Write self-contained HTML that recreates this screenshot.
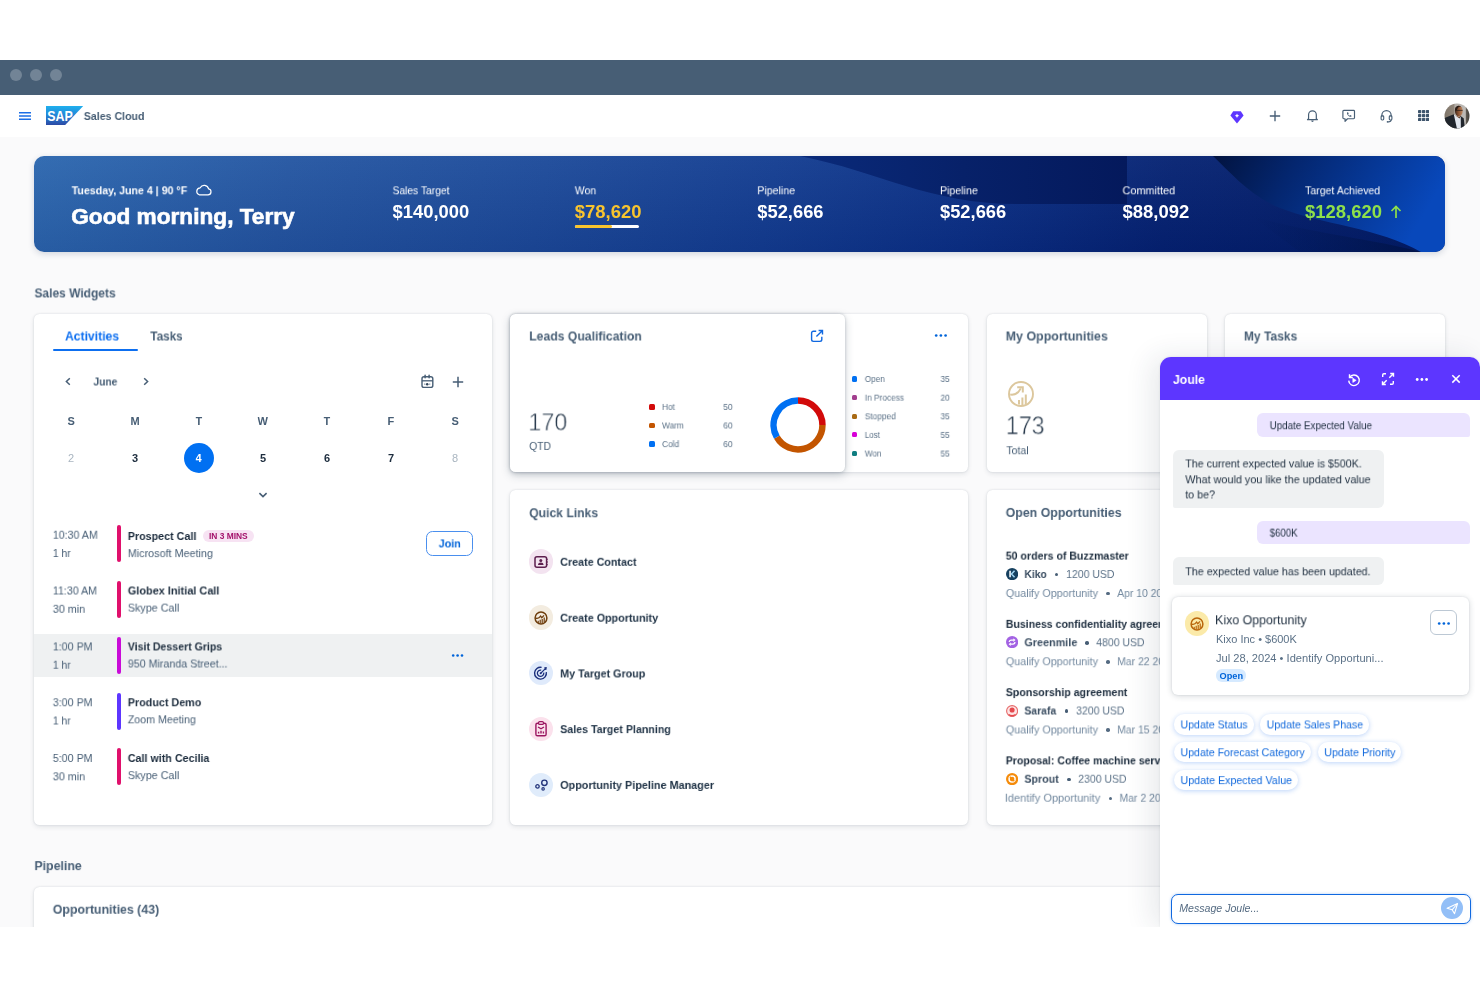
<!DOCTYPE html>
<html><head><meta charset="utf-8">
<style>
*{box-sizing:border-box;margin:0;padding:0}
html,body{width:1480px;height:987px;overflow:hidden;background:#fff}
body{font-family:"Liberation Sans",sans-serif;color:#1d2d3e;position:relative}
.abs{position:absolute}
.t{position:absolute;white-space:pre;line-height:1;transform-origin:0 0;will-change:transform}
#chrome{left:0;top:60px;width:1480px;height:35px;background:#475e75}
#chrome i{position:absolute;top:9px;width:12px;height:12px;border-radius:50%;background:#728496}
#hdr{left:0;top:95px;width:1480px;height:42px;background:#fff}
#page{left:0;top:137px;width:1480px;height:790px;background:#fafafb}
#banner{left:34px;top:156px;width:1411px;height:96px;border-radius:10px;overflow:hidden;background:linear-gradient(180deg,rgba(255,255,255,.04),rgba(0,0,50,.09)),linear-gradient(100deg,#2c67af 0%,#2456a2 18%,#1c4a9a 36%,#133d91 52%,#0b3086 66%,#052272 80%,#021b64 100%);box-shadow:0 2px 6px rgba(30,50,90,.18)}
.card{position:absolute;background:#fff;border-radius:5.500px;box-shadow:0 0 2px rgba(34,53,72,.16),0 2px 5px rgba(34,53,72,.10)}
.bar{position:absolute;left:116.700px;width:4.5px;height:37px;border-radius:2.5px}
.sq{position:absolute;width:5.5px;height:5.5px;border-radius:1.5px}
.ub{position:absolute;left:1257px;width:212.5px;background:#ebe4ff;border-radius:6px 6px 2px 6px}
.bb{position:absolute;left:1172.5px;width:211px;background:#eff1f2;border-radius:6px 6px 6px 2px}
.chip{position:absolute;height:20.200px;border-radius:10.100px;background:#fff;box-shadow:0 1px 5px rgba(30,110,235,.30)}
.qc{position:absolute;left:529px;width:24.4px;height:24.4px;border-radius:50%}
</style></head><body>
<div id="chrome" class="abs"><i style="left:10px"></i><i style="left:30px"></i><i style="left:50px"></i></div>
<div id="hdr" class="abs">
<svg class="abs" style="left:19px;top:15px" width="12" height="12" viewBox="0 0 12 12"><path d="M0 2.700h12M0 6h12M0 9.300h12" stroke="#1b6ee6" stroke-width="1.600" fill="none"/></svg>
<svg class="abs" style="left:46px;top:11px" width="38" height="19" viewBox="0 0 38 19"><defs><linearGradient id="sapg" x1="0" y1="0" x2="0" y2="1"><stop offset="0" stop-color="#1fb0ee"/><stop offset=".5" stop-color="#2384d6"/><stop offset="1" stop-color="#2c4aa5"/></linearGradient></defs><path d="M0 0H37.200L19.200 19H0Z" fill="url(#sapg)"/><text x="1.200" y="14.600" font-family="Liberation Sans" font-weight="bold" font-size="14.200" fill="#fff" textLength="25.500" lengthAdjust="spacingAndGlyphs">SAP</text></svg>
<svg class="abs" style="left:1230px;top:15.500px" width="14" height="13" viewBox="0 0 14 13"><path d="M3.200 0.300h7.600L13.600 4.400 7 12.600 0.400 4.400Z" fill="#5d36ff"/><path d="M7 2.600l.7 1.500 1.500.7-1.500.7L7 7l-.7-1.500-1.500-.7 1.500-.7Z" fill="#fff"/></svg>
<svg class="abs" style="left:1268.700px;top:14.600px" width="12" height="12" viewBox="0 0 12 12"><path d="M6 0.800v10.400M0.800 6h10.400" stroke="#475e75" stroke-width="1.350" fill="none"/></svg>
<svg class="abs" style="left:1305.600px;top:14.300px" width="12.900" height="13.800" viewBox="0 0 14 15"><path d="M2.800 10.600V6.200a4.200 4.200 0 0 1 8.400 0v4.400l1.200 1H1.600Z" fill="none" stroke="#475e75" stroke-width="1.300" stroke-linejoin="round"/><path d="M5.600 12.600a1.400 1.400 0 0 0 2.800 0Z" fill="#475e75"/></svg>
<svg class="abs" style="left:1342.200px;top:13.800px" width="13.400" height="14" viewBox="0 0 15 15"><path d="M2 1.200h11a1 1 0 0 1 1 1v7.400a1 1 0 0 1-1 1H6.200L3.400 13.400v-2.800H2a1 1 0 0 1-1-1V2.200a1 1 0 0 1 1-1Z" fill="none" stroke="#475e75" stroke-width="1.300" stroke-linejoin="round"/><path d="M5.600 3.600l1.200-.3.700 1.600-.7.600c.3.800.9 1.400 1.700 1.700l.6-.7 1.600.7-.3 1.200c-2.600.3-5.100-2.200-4.800-4.800Z" fill="#475e75"/></svg>
<svg class="abs" style="left:1379.600px;top:13.800px" width="13" height="14" viewBox="0 0 14 15"><path d="M2 8V6.600a5 5 0 0 1 10 0V8" fill="none" stroke="#475e75" stroke-width="1.300"/><rect x="1.200" y="7.400" width="2.800" height="4.400" rx="1" fill="none" stroke="#475e75" stroke-width="1.200"/><rect x="10" y="7.400" width="2.800" height="4.400" rx="1" fill="none" stroke="#475e75" stroke-width="1.200"/><path d="M12 11.800c0 1.400-1.200 2-3.200 2" fill="none" stroke="#475e75" stroke-width="1.200"/><circle cx="8.200" cy="13.800" r="1" fill="#475e75"/></svg>
<svg class="abs" style="left:1417.700px;top:15.100px" width="11.200" height="11.200" viewBox="0 0 11.200 11.200" fill="#3f566d"><rect x="0.00" y="0.00" width="3.300" height="3.300" rx=".7"/><rect x="3.95" y="0.00" width="3.300" height="3.300" rx=".7"/><rect x="7.90" y="0.00" width="3.300" height="3.300" rx=".7"/><rect x="0.00" y="3.95" width="3.300" height="3.300" rx=".7"/><rect x="3.95" y="3.95" width="3.300" height="3.300" rx=".7"/><rect x="7.90" y="3.95" width="3.300" height="3.300" rx=".7"/><rect x="0.00" y="7.90" width="3.300" height="3.300" rx=".7"/><rect x="3.95" y="7.90" width="3.300" height="3.300" rx=".7"/><rect x="7.90" y="7.90" width="3.300" height="3.300" rx=".7"/></svg>
<svg class="abs" style="left:1444.300px;top:7.800px" width="26" height="26" viewBox="0 0 26 26"><defs><clipPath id="avc"><circle cx="13" cy="13" r="12.500"/></clipPath><linearGradient id="avg" x1="0" y1="0" x2="1" y2="0"><stop offset="0" stop-color="#7d7468"/><stop offset=".38" stop-color="#8f8478"/><stop offset=".42" stop-color="#b3aea8"/><stop offset=".82" stop-color="#bdbab6"/><stop offset=".86" stop-color="#5d5850"/><stop offset="1" stop-color="#3c3a36"/></linearGradient><linearGradient id="avf" x1="0" y1="0" x2="1" y2="0"><stop offset="0" stop-color="#3b271d"/><stop offset=".45" stop-color="#8a5333"/><stop offset="1" stop-color="#c08a62"/></linearGradient></defs><g clip-path="url(#avc)"><rect width="26" height="26" fill="url(#avg)"/><ellipse cx="14.800" cy="8" rx="3.900" ry="5.200" fill="url(#avf)"/><path d="M10.900 7.500c0-3 1.600-4.800 4-4.800 1 0 1.800.3 2.400.8-2.400-.2-4.200 1.400-4.600 4.200Z" fill="#2a1c15"/><path d="M12.800 7.400h5.800" stroke="#2e211b" stroke-width=".8"/><path d="M11.400 12.500l3.800 1.500 1.300-1.500v4h-5Z" fill="#7a4a2e"/><path d="M0 26V15.200l9.800-4 4.200 6 2.500-4.200 3.200 2.200 1.300 10.800Z" fill="#20252c"/><path d="M9.800 11.200l5.600 4.300 1.300-2 .2 12.500h-3.900Z" fill="#e1e6ee"/></g></svg>
</div>
<div class="t" style="left:83px;top:111px;font-size:11.3px;color:#475e75;font-weight:bold;transform:translate(0.80px,0.00px) scaleX(0.9389);">Sales Cloud</div>
<div id="page" class="abs"></div>
<div id="banner" class="abs">
<svg class="abs" style="left:0;top:0" width="1411" height="96" viewBox="34 156 1411 96"><defs>
<linearGradient id="bg1" x1="0" y1="0" x2="1" y2="0"><stop offset="0" stop-color="#0a2a7a"/><stop offset=".5" stop-color="#072169"/><stop offset="1" stop-color="#04195c"/></linearGradient>
<linearGradient id="bg2" x1="0" y1="0" x2="1" y2="0.250"><stop offset="0" stop-color="#02133f"/><stop offset=".35" stop-color="#04266f"/><stop offset="1" stop-color="#0848bb"/></linearGradient>
<linearGradient id="bg3" x1="0" y1="0" x2="1" y2="0"><stop offset="0" stop-color="#021a5c" stop-opacity="0"/><stop offset="1" stop-color="#011346" stop-opacity=".9"/></linearGradient>
</defs>
<path d="M800 156C880 172 930 204 1016 204H1127V156Z" fill="url(#bg1)"/>
<path d="M1250 215C1300 232 1370 238 1421 252H1300Z" fill="url(#bg3)"/>
<path d="M1213 156C1230 172 1250 196 1280 208C1320 224 1380 228 1421 252H1445V156Z" fill="url(#bg2)"/>
</svg>
<svg class="abs" style="left:161.400px;top:28.200px" width="17" height="12" viewBox="0 0 17 12"><path d="M4.200 10.800h8.800a3 3 0 0 0 .6-5.940A4.500 4.500 0 0 0 5.200 3.800 3.600 3.600 0 0 0 4.200 10.800Z" fill="none" stroke="#fff" stroke-width="1.200" stroke-linejoin="round"/></svg>
<div class="abs" style="left:541px;top:68.500px;width:64px;height:3px;border-radius:2px;background:#fff"></div><div class="abs" style="left:541px;top:68.500px;width:37px;height:3px;border-radius:2px;background:#f8c42e"></div>
<svg class="abs" style="left:1355.500px;top:48.700px" width="12" height="14" viewBox="0 0 12 14"><path d="M6 13V1.500M1.500 6L6 1.500 10.500 6" fill="none" stroke="#8fe04a" stroke-width="1.700"/></svg>
</div>
<div class="t" style="left:71px;top:185px;font-size:11.3px;color:#fff;font-weight:bold;transform:translate(0.70px,0.30px) scaleX(0.9399);">Tuesday, June 4 | 90 °F</div>
<div class="t" style="left:71px;top:206px;font-size:21.5px;color:#fff;font-weight:bold;transform:translate(0.20px,0.70px) scaleX(1.0530);-webkit-text-stroke:.6px #fff;">Good morning, Terry</div>
<div class="t" style="left:392px;top:185px;font-size:11.3px;color:#fff;transform:translate(0.60px,0.30px) scaleX(0.9080);">Sales Target</div>
<div class="t" style="left:392px;top:203px;font-size:18px;color:#fff;font-weight:bold;transform:translate(0.60px,0.00px) scaleX(1.0204);">$140,000</div>
<div class="t" style="left:574px;top:185px;font-size:11.3px;color:#fff;transform:translate(0.80px,0.30px) scaleX(0.9278);">Won</div>
<div class="t" style="left:574px;top:203px;font-size:18px;color:#f8c42e;font-weight:bold;transform:translate(0.80px,0.00px) scaleX(1.0253);">$78,620</div>
<div class="t" style="left:757px;top:185px;font-size:11.3px;color:#fff;transform:translate(0.30px,0.30px) scaleX(0.9395);">Pipeline</div>
<div class="t" style="left:757px;top:203px;font-size:18px;color:#fff;font-weight:bold;transform:translate(0.30px,0.00px) scaleX(1.0176);">$52,666</div>
<div class="t" style="left:940px;top:185px;font-size:11.3px;color:#fff;transform:translate(0.00px,0.30px) scaleX(0.9395);">Pipeline</div>
<div class="t" style="left:940px;top:203px;font-size:18px;color:#fff;font-weight:bold;transform:translate(0.00px,0.00px) scaleX(1.0176);">$52,666</div>
<div class="t" style="left:1122px;top:185px;font-size:11.3px;color:#fff;transform:translate(0.50px,0.30px) scaleX(0.9644);">Committed</div>
<div class="t" style="left:1122px;top:203px;font-size:18px;color:#fff;font-weight:bold;transform:translate(0.50px,0.00px) scaleX(1.0253);">$88,092</div>
<div class="t" style="left:1305px;top:185px;font-size:11.3px;color:#fff;transform:translate(0.00px,0.30px) scaleX(0.9353);">Target Achieved</div>
<div class="t" style="left:1305px;top:203px;font-size:18px;color:#8fe04a;font-weight:bold;transform:translate(0.00px,0.00px) scaleX(1.0258);">$128,620</div>
<div class="t" style="left:34px;top:286px;font-size:13.3px;color:#475e75;font-weight:bold;transform:translate(0.50px,0.40px) scaleX(0.9003);">Sales Widgets</div>
<div class="card" style="left:34px;top:314px;width:458px;height:511px"></div>
<div class="card" style="left:510px;top:314px;width:458px;height:158px"></div>
<div class="card" style="left:510px;top:314px;width:335px;height:158px;box-shadow:0 0 3px rgba(34,53,72,.25),0 3px 10px rgba(34,53,72,.22)"></div>
<div class="card" style="left:510px;top:490px;width:458px;height:335px"></div>
<div class="card" style="left:987px;top:314px;width:220px;height:158px"></div>
<div class="card" style="left:1225px;top:314px;width:220px;height:158px"></div>
<div class="card" style="left:987px;top:490px;width:458px;height:335px"></div>
<div class="card" style="left:34px;top:887px;width:1411px;height:60px"></div>
<div class="t" style="left:65px;top:329px;font-size:13.3px;color:#0d6ff0;font-weight:bold;transform:translate(0.00px,0.50px) scaleX(0.9144);">Activities</div>
<div class="t" style="left:150px;top:329px;font-size:13.3px;color:#475e75;font-weight:bold;transform:translate(0.30px,0.50px) scaleX(0.8810);">Tasks</div>
<div class="abs" style="left:53px;top:348.500px;width:84.500px;height:2.700px;border-radius:1.500px;background:#0d6ff0"></div>
<svg class="abs" style="left:64px;top:376px" width="8" height="11" viewBox="0 0 8 11"><path d="M5.800 2.300L2.400 5.500 5.800 8.700" fill="none" stroke="#475e75" stroke-width="1.500"/></svg>
<svg class="abs" style="left:142px;top:376px" width="8" height="11" viewBox="0 0 8 11"><path d="M2.200 2.300L5.600 5.500 2.200 8.700" fill="none" stroke="#475e75" stroke-width="1.500"/></svg>
<svg class="abs" style="left:258px;top:490px" width="10" height="10" viewBox="0 0 10 10"><path d="M1.400 3.200L5 6.600 8.600 3.200" fill="none" stroke="#475e75" stroke-width="1.600"/></svg>
<svg class="abs" style="left:419.500px;top:374px" width="14" height="15" viewBox="0 0 14 15"><rect x="2" y="2.700" width="10.800" height="10.700" rx="2" fill="none" stroke="#475e75" stroke-width="1.400"/><path d="M5.100 1.200v2.600M9.100 1.200v2.600" stroke="#475e75" stroke-width="1.500" stroke-linecap="round" fill="none"/><path d="M2 6.800h10.800" stroke="#475e75" stroke-width="1.300"/><circle cx="7.200" cy="10.200" r="1.250" fill="#33475b"/><path d="M4 10.200h1.400M9 10.200h1.400" stroke="#8fa0b2" stroke-width="1.200"/></svg>
<svg class="abs" style="left:451.600px;top:375.500px" width="12" height="12" viewBox="0 0 12 12"><path d="M6 0.800v10.400M0.800 6h10.400" stroke="#475e75" stroke-width="1.500" fill="none"/></svg>
<div class="abs" style="left:183.600px;top:442.500px;width:30.800px;height:30.800px;border-radius:50%;background:#0070f2"></div>
<div class="t" style="left:93px;top:375px;font-size:11.6px;color:#475e75;font-weight:bold;transform:translate(0.40px,0.50px) scaleX(0.8873);">June</div>
<div class="t" style="left:67px;top:415px;font-size:11px;color:#475e75;font-weight:bold;transform:translate(0.50px,0.90px);">S</div>
<div class="t" style="left:130px;top:415px;font-size:11px;color:#475e75;font-weight:bold;transform:translate(0.50px,0.90px);">M</div>
<div class="t" style="left:195px;top:415px;font-size:11px;color:#475e75;font-weight:bold;transform:translate(0.50px,0.90px);">T</div>
<div class="t" style="left:257px;top:415px;font-size:11px;color:#475e75;font-weight:bold;transform:translate(0.50px,0.90px);">W</div>
<div class="t" style="left:323px;top:415px;font-size:11px;color:#475e75;font-weight:bold;transform:translate(0.50px,0.90px);">T</div>
<div class="t" style="left:387px;top:415px;font-size:11px;color:#475e75;font-weight:bold;transform:translate(0.50px,0.90px);">F</div>
<div class="t" style="left:451px;top:415px;font-size:11px;color:#475e75;font-weight:bold;transform:translate(0.50px,0.90px);">S</div>
<div class="t" style="left:68px;top:452px;font-size:11px;color:#a9b5c0;transform:translate(0.00px,0.90px);">2</div>
<div class="t" style="left:132px;top:452px;font-size:11px;color:#1d2d3e;font-weight:bold;transform:translate(0.00px,0.90px);">3</div>
<div class="t" style="left:195px;top:452px;font-size:11px;color:#fff;font-weight:bold;transform:translate(0.50px,0.90px);">4</div>
<div class="t" style="left:260px;top:452px;font-size:11px;color:#1d2d3e;font-weight:bold;transform:translate(0.00px,0.90px);">5</div>
<div class="t" style="left:324px;top:452px;font-size:11px;color:#1d2d3e;font-weight:bold;transform:translate(0.00px,0.90px);">6</div>
<div class="t" style="left:388px;top:452px;font-size:11px;color:#1d2d3e;font-weight:bold;transform:translate(0.00px,0.90px);">7</div>
<div class="t" style="left:452px;top:452px;font-size:11px;color:#a9b5c0;transform:translate(0.00px,0.90px);">8</div>
<div class="abs" style="left:34px;top:634px;width:458px;height:43px;background:#eff1f2"></div>
<div class="bar" style="top:525px;background:#e0106c"></div>
<div class="t" style="left:52px;top:529px;font-size:11.2px;color:#475e75;transform:translate(0.80px,0.70px) scaleX(0.9503);">10:30 AM</div>
<div class="t" style="left:52px;top:548px;font-size:11.2px;color:#475e75;transform:translate(0.80px,0.00px) scaleX(0.9308);">1 hr</div>
<div class="t" style="left:127px;top:530px;font-size:11.6px;color:#1d2d3e;font-weight:bold;transform:translate(0.80px,0.00px) scaleX(0.9245);">Prospect Call</div>
<div class="t" style="left:127px;top:548px;font-size:11.2px;color:#475e75;transform:translate(0.80px,0.10px) scaleX(0.9652);">Microsoft Meeting</div>
<div class="bar" style="top:580.8px;background:#e0106c"></div>
<div class="t" style="left:52px;top:585px;font-size:11.2px;color:#475e75;transform:translate(0.80px,0.50px) scaleX(0.9522);">11:30 AM</div>
<div class="t" style="left:52px;top:603px;font-size:11.2px;color:#475e75;transform:translate(0.80px,0.80px) scaleX(0.9653);">30 min</div>
<div class="t" style="left:127px;top:584px;font-size:11.6px;color:#1d2d3e;font-weight:bold;transform:translate(0.80px,0.50px) scaleX(0.9417);">Globex Initial Call</div>
<div class="t" style="left:127px;top:602px;font-size:11.2px;color:#475e75;transform:translate(0.80px,0.60px) scaleX(0.9625);">Skype Call</div>
<div class="bar" style="top:636.7px;background:#c90bd8"></div>
<div class="t" style="left:52px;top:641px;font-size:11.2px;color:#475e75;transform:translate(0.80px,0.40px) scaleX(0.9554);">1:00 PM</div>
<div class="t" style="left:52px;top:659px;font-size:11.2px;color:#475e75;transform:translate(0.80px,0.70px) scaleX(0.9308);">1 hr</div>
<div class="t" style="left:127px;top:640px;font-size:11.6px;color:#1d2d3e;font-weight:bold;transform:translate(0.80px,0.40px) scaleX(0.9119);">Visit Dessert Grips</div>
<div class="t" style="left:127px;top:658px;font-size:11.2px;color:#475e75;transform:translate(0.80px,0.50px) scaleX(0.9553);">950 Miranda Street...</div>
<div class="bar" style="top:692.5px;background:#5d36ff"></div>
<div class="t" style="left:52px;top:697px;font-size:11.2px;color:#475e75;transform:translate(0.80px,0.20px) scaleX(0.9554);">3:00 PM</div>
<div class="t" style="left:52px;top:715px;font-size:11.2px;color:#475e75;transform:translate(0.80px,0.50px) scaleX(0.9308);">1 hr</div>
<div class="t" style="left:127px;top:696px;font-size:11.6px;color:#1d2d3e;font-weight:bold;transform:translate(0.80px,0.20px) scaleX(0.9274);">Product Demo</div>
<div class="t" style="left:127px;top:714px;font-size:11.2px;color:#475e75;transform:translate(0.80px,0.30px) scaleX(0.9525);">Zoom Meeting</div>
<div class="bar" style="top:748.3px;background:#e0106c"></div>
<div class="t" style="left:52px;top:753px;font-size:11.2px;color:#475e75;transform:translate(0.80px,0.00px) scaleX(0.9554);">5:00 PM</div>
<div class="t" style="left:52px;top:771px;font-size:11.2px;color:#475e75;transform:translate(0.80px,0.30px) scaleX(0.9653);">30 min</div>
<div class="t" style="left:127px;top:752px;font-size:11.6px;color:#1d2d3e;font-weight:bold;transform:translate(0.80px,0.00px) scaleX(0.9244);">Call with Cecilia</div>
<div class="t" style="left:127px;top:770px;font-size:11.2px;color:#475e75;transform:translate(0.80px,0.10px) scaleX(0.9625);">Skype Call</div>
<div class="abs" style="left:203.200px;top:530.300px;width:51px;height:11.700px;border-radius:6px;background:#f7e3f3"></div>
<div class="t" style="left:208px;top:533px;font-size:8.2px;color:#a3116a;font-weight:bold;transform:translate(0.90px,0.40px) scaleX(1.0262);">IN 3 MINS</div>
<div class="abs" style="left:426.200px;top:531.100px;width:47.200px;height:25.400px;border-radius:6.500px;border:1.200px solid #4a8fee;background:#fff"></div>
<div class="t" style="left:438px;top:537px;font-size:11.6px;color:#0064d9;font-weight:bold;transform:translate(0.70px,0.40px) scaleX(0.9263);">Join</div>
<svg class="abs" style="left:451px;top:652.600px" width="14" height="5" viewBox="0 0 14 5" fill="#0064d9"><circle cx="2.200" cy="2.500" r="1.300"/><circle cx="6.600" cy="2.500" r="1.300"/><circle cx="11" cy="2.500" r="1.300"/></svg>
<div class="t" style="left:529px;top:329px;font-size:13.3px;color:#475e75;font-weight:bold;transform:translate(0.20px,0.50px) scaleX(0.9181);">Leads Qualification</div>
<svg class="abs" style="left:809.500px;top:329px" width="14" height="14" viewBox="0 0 14 14"><path d="M6.200 2.200H3.400A1.800 1.800 0 0 0 1.600 4V10.600a1.800 1.800 0 0 0 1.800 1.800H10a1.800 1.800 0 0 0 1.800-1.800V7.800" fill="none" stroke="#1068e0" stroke-width="1.400"/><path d="M8.600 1.500h3.900v3.900M12.300 1.700L6.400 7.600" fill="none" stroke="#1068e0" stroke-width="1.400"/></svg>
<svg class="abs" style="left:933.500px;top:333.200px" width="14" height="5" viewBox="0 0 14 5" fill="#0064d9"><circle cx="2.200" cy="2.500" r="1.350"/><circle cx="6.900" cy="2.500" r="1.350"/><circle cx="11.600" cy="2.500" r="1.350"/></svg>
<div class="t" style="left:528px;top:410px;font-size:24.5px;color:#223447;transform:translate(0.24px,0.40px) scaleX(0.9554);-webkit-text-stroke:.55px #fff;">170</div>
<div class="t" style="left:529px;top:440px;font-size:11.2px;color:#475e75;transform:translate(0.20px,0.90px) scaleX(0.9220);">QTD</div>
<div class="sq" style="left:649.300px;top:404.05px;background:#d20a0a"></div>
<div class="t" style="left:662px;top:402px;font-size:8.7px;color:#5b7187;transform:translate(0.00px,0.90px) scaleX(0.9500);">Hot</div>
<div class="t" style="left:723px;top:402px;font-size:8.7px;color:#5b7187;transform:translate(0.20px,0.90px) scaleX(0.9866);">50</div>
<div class="sq" style="left:649.300px;top:422.65px;background:#c35500"></div>
<div class="t" style="left:662px;top:421px;font-size:8.7px;color:#5b7187;transform:translate(0.00px,0.50px) scaleX(0.9557);">Warm</div>
<div class="t" style="left:723px;top:421px;font-size:8.7px;color:#5b7187;transform:translate(0.20px,0.50px) scaleX(0.9866);">60</div>
<div class="sq" style="left:649.300px;top:441.25px;background:#0070f2"></div>
<div class="t" style="left:662px;top:440px;font-size:8.7px;color:#5b7187;transform:translate(0.00px,0.10px) scaleX(0.9648);">Cold</div>
<div class="t" style="left:723px;top:440px;font-size:8.7px;color:#5b7187;transform:translate(0.20px,0.10px) scaleX(0.9866);">60</div>
<svg class="abs" style="left:766px;top:393.400px" width="64" height="64" viewBox="766 393.400 64 64"><path d="M798.00 400.95A24.45 24.45 0 0 1 822.45 425.40" fill="none" stroke="#d20a0a" stroke-width="6.5"/><path d="M822.45 425.40A24.45 24.45 0 0 1 776.83 437.62" fill="none" stroke="#c35500" stroke-width="6.5"/><path d="M776.83 437.62A24.45 24.45 0 0 1 798.00 400.95" fill="none" stroke="#0070f2" stroke-width="6.5"/></svg>
<div class="sq" style="left:852px;top:376.30px;width:5.300px;height:5.300px;background:#0070f2"></div>
<div class="t" style="left:864px;top:375px;font-size:8.6px;color:#5b7187;transform:translate(0.80px,0.00px) scaleX(0.9509);">Open</div>
<div class="t" style="left:940px;top:375px;font-size:8.6px;color:#5b7187;transform:translate(0.50px,0.00px) scaleX(0.9612);">35</div>
<div class="sq" style="left:852px;top:394.93px;width:5.300px;height:5.300px;background:#a23e8e"></div>
<div class="t" style="left:864px;top:393px;font-size:8.6px;color:#5b7187;transform:translate(0.80px,0.63px) scaleX(0.9652);">In Process</div>
<div class="t" style="left:940px;top:393px;font-size:8.6px;color:#5b7187;transform:translate(0.50px,0.63px) scaleX(0.9612);">20</div>
<div class="sq" style="left:852px;top:413.56px;width:5.300px;height:5.300px;background:#a86a14"></div>
<div class="t" style="left:864px;top:412px;font-size:8.6px;color:#5b7187;transform:translate(0.80px,0.26px) scaleX(0.9678);">Stopped</div>
<div class="t" style="left:940px;top:412px;font-size:8.6px;color:#5b7187;transform:translate(0.50px,0.26px) scaleX(0.9612);">35</div>
<div class="sq" style="left:852px;top:432.19px;width:5.300px;height:5.300px;background:#d800d8"></div>
<div class="t" style="left:864px;top:430px;font-size:8.6px;color:#5b7187;transform:translate(0.80px,0.89px) scaleX(0.9314);">Lost</div>
<div class="t" style="left:940px;top:430px;font-size:8.6px;color:#5b7187;transform:translate(0.50px,0.89px) scaleX(0.9612);">55</div>
<div class="sq" style="left:852px;top:450.82px;width:5.300px;height:5.300px;background:#0f7d80"></div>
<div class="t" style="left:864px;top:449px;font-size:8.6px;color:#5b7187;transform:translate(0.80px,0.52px) scaleX(0.9529);">Won</div>
<div class="t" style="left:940px;top:449px;font-size:8.6px;color:#5b7187;transform:translate(0.50px,0.52px) scaleX(0.9612);">55</div>
<div class="t" style="left:529px;top:506px;font-size:13.3px;color:#475e75;font-weight:bold;transform:translate(0.20px,0.20px) scaleX(0.9136);">Quick Links</div>
<div class="qc" style="top:549.40px;background:#f3e3f0"></div>
<div class="t" style="left:560px;top:555px;font-size:11.7px;color:#223548;font-weight:bold;transform:translate(0.20px,0.80px) scaleX(0.9178);">Create Contact</div>
<div class="qc" style="top:605.30px;background:#f3ece0"></div>
<div class="t" style="left:560px;top:611px;font-size:11.7px;color:#223548;font-weight:bold;transform:translate(0.20px,0.70px) scaleX(0.9197);">Create Opportunity</div>
<div class="qc" style="top:661.00px;background:#dfeafb"></div>
<div class="t" style="left:560px;top:667px;font-size:11.7px;color:#223548;font-weight:bold;transform:translate(0.20px,0.40px) scaleX(0.9189);">My Target Group</div>
<div class="qc" style="top:716.70px;background:#fbe1ec"></div>
<div class="t" style="left:560px;top:723px;font-size:11.7px;color:#223548;font-weight:bold;transform:translate(0.20px,0.10px) scaleX(0.9125);">Sales Target Planning</div>
<div class="qc" style="top:772.50px;background:#e0ecfb"></div>
<div class="t" style="left:560px;top:778px;font-size:11.7px;color:#223548;font-weight:bold;transform:translate(0.20px,0.90px) scaleX(0.9251);">Opportunity Pipeline Manager</div>
<svg class="abs" style="left:533.300px;top:553.600px" width="16" height="16" viewBox="0 0 16 16"><rect x="2" y="2.700" width="11.600" height="10.600" rx="2" fill="none" stroke="#5e1f4f" stroke-width="1.500"/><path d="M13.600 5.400h1M13.600 8h1M13.600 10.600h1" stroke="#5e1f4f" stroke-width="1.300"/><circle cx="7.800" cy="6.600" r="1.500" fill="#5e1f4f"/><path d="M5 11c0-1.700 1.200-2.500 2.800-2.500s2.800.8 2.800 2.500Z" fill="#5e1f4f"/></svg>
<svg class="abs" style="left:533.300px;top:609.500px" width="16" height="16" viewBox="0 0 16 16"><circle cx="8" cy="8" r="5.900" fill="none" stroke="#6e3d0c" stroke-width="1.500"/><path d="M2.800 8.200c2.200.6 3.600-.2 4.800-2l1.200 1.500 2.200-2.300" fill="none" stroke="#6e3d0c" stroke-width="1.300"/><path d="M5.200 13V10.800M7.200 13.600V9.800M9.200 13.600V9M11.200 12.600V7.600" stroke="#6e3d0c" stroke-width="1.200"/></svg>
<svg class="abs" style="left:533.300px;top:665.200px" width="16" height="16" viewBox="0 0 16 16"><path d="M13.300 7.200A5.900 5.900 0 1 1 8.600 2.400" fill="none" stroke="#1b2f7c" stroke-width="1.400"/><path d="M10.700 7.600A3.200 3.200 0 1 1 8.200 5.100" fill="none" stroke="#1b2f7c" stroke-width="1.300"/><circle cx="7.700" cy="8.300" r="1" fill="#1b2f7c"/><path d="M7.900 8.100L12.600 3.400" stroke="#1b2f7c" stroke-width="1.300"/><path d="M11.200 2.300l2.600-.3-.3 2.700-1.300.2Z" fill="#1b2f7c"/></svg>
<svg class="abs" style="left:533.300px;top:720.900px" width="16" height="16" viewBox="0 0 16 16"><rect x="2.900" y="2.200" width="10.200" height="12.600" rx="1.600" fill="none" stroke="#9b1560" stroke-width="1.400"/><rect x="5.600" y=".6" width="4.800" height="2.800" rx="1" fill="#fbe1ec" stroke="#9b1560" stroke-width="1.200"/><path d="M5 6l3 1.800L11 6" fill="none" stroke="#9b1560" stroke-width="1.300"/><path d="M5.600 12.600v-1.800M8 12.600V9.800M10.400 12.600V10.400" stroke="#9b1560" stroke-width="1.400"/></svg>
<svg class="abs" style="left:533.300px;top:776.700px" width="16" height="16" viewBox="0 0 16 16" fill="none" stroke="#22337a"><circle cx="11.400" cy="5.800" r="2.700" stroke-width="1.400"/><circle cx="4.500" cy="9.400" r="1.700" stroke-width="1.300"/><circle cx="10.100" cy="11.900" r="1.200" stroke-width="1.200"/></svg>
<div class="t" style="left:1005px;top:329px;font-size:13.3px;color:#475e75;font-weight:bold;transform:translate(0.70px,0.50px) scaleX(0.9336);">My Opportunities</div>
<div class="t" style="left:1243px;top:329px;font-size:13.3px;color:#475e75;font-weight:bold;transform:translate(0.90px,0.50px) scaleX(0.9062);">My Tasks</div>
<svg class="abs" style="left:1007px;top:380.400px" width="28" height="28" viewBox="0 0 28 28" fill="none" stroke="#dcc79d"><circle cx="14" cy="14" r="12" stroke-width="1.900"/><path d="M3.200 14.600c5 .8 8.200-1.400 10.600-6.200" stroke-width="2"/><path d="M10.200 7.200h5.600v5.400" stroke-width="2"/><path d="M12 24.500v-4.500M15.400 25.500v-8M18.800 24.800V14.600" stroke-width="2"/></svg>
<div class="t" style="left:1005px;top:413px;font-size:25.5px;color:#223447;transform:translate(0.79px,0.30px) scaleX(0.9138);-webkit-text-stroke:.55px #fff;">173</div>
<div class="t" style="left:1006px;top:445px;font-size:11.2px;color:#475e75;transform:translate(0.40px,0.20px) scaleX(0.9376);">Total</div>
<div class="t" style="left:1005px;top:505px;font-size:13.3px;color:#475e75;font-weight:bold;transform:translate(0.70px,0.90px) scaleX(0.9281);">Open Opportunities</div>
<div class="t" style="left:1005px;top:550px;font-size:11.4px;color:#1d2d3e;font-weight:bold;transform:translate(0.80px,0.60px) scaleX(0.9295);">50 orders of Buzzmaster</div>
<div class="t" style="left:1024px;top:569px;font-size:11.4px;color:#394c60;font-weight:bold;transform:translate(0.40px,0.00px) scaleX(0.9059);">Kiko</div>
<div class="abs" style="left:1054.9px;top:572.7px;width:3.500px;height:3.500px;border-radius:50%;background:#475e75"></div>
<div class="t" style="left:1066px;top:569px;font-size:11.2px;color:#5b7187;transform:translate(0.10px,0.00px) scaleX(0.9372);">1200 USD</div>
<div class="t" style="left:1005px;top:588px;font-size:11.2px;color:#748aa0;transform:translate(0.80px,0.00px) scaleX(0.9629);">Qualify Opportunity</div>
<div class="abs" style="left:1106.4px;top:591.7px;width:3.500px;height:3.500px;border-radius:50%;background:#556b82"></div>
<div class="t" style="left:1117px;top:588px;font-size:11.2px;color:#748aa0;transform:translate(0.20px,0.00px) scaleX(0.9300);">Apr 10 2024</div>
<div class="t" style="left:1005px;top:618px;font-size:11.4px;color:#1d2d3e;font-weight:bold;transform:translate(0.80px,0.85px) scaleX(0.9250);">Business confidentiality agreement</div>
<div class="t" style="left:1024px;top:637px;font-size:11.4px;color:#394c60;font-weight:bold;transform:translate(0.40px,0.25px) scaleX(0.9480);">Greenmile</div>
<div class="abs" style="left:1085.0px;top:641.0px;width:3.500px;height:3.500px;border-radius:50%;background:#475e75"></div>
<div class="t" style="left:1096px;top:637px;font-size:11.2px;color:#5b7187;transform:translate(0.20px,0.25px) scaleX(0.9372);">4800 USD</div>
<div class="t" style="left:1005px;top:656px;font-size:11.2px;color:#748aa0;transform:translate(0.80px,0.25px) scaleX(0.9629);">Qualify Opportunity</div>
<div class="abs" style="left:1106.4px;top:660.0px;width:3.500px;height:3.500px;border-radius:50%;background:#556b82"></div>
<div class="t" style="left:1117px;top:656px;font-size:11.2px;color:#748aa0;transform:translate(0.20px,0.25px) scaleX(0.9300);">Mar 22 2024</div>
<div class="t" style="left:1005px;top:687px;font-size:11.4px;color:#1d2d3e;font-weight:bold;transform:translate(0.80px,0.10px) scaleX(0.9327);">Sponsorship agreement</div>
<div class="t" style="left:1024px;top:705px;font-size:11.4px;color:#394c60;font-weight:bold;transform:translate(0.40px,0.50px) scaleX(0.9128);">Sarafa</div>
<div class="abs" style="left:1064.9px;top:709.2px;width:3.500px;height:3.500px;border-radius:50%;background:#475e75"></div>
<div class="t" style="left:1076px;top:705px;font-size:11.2px;color:#5b7187;transform:translate(0.10px,0.50px) scaleX(0.9372);">3200 USD</div>
<div class="t" style="left:1005px;top:724px;font-size:11.2px;color:#748aa0;transform:translate(0.80px,0.50px) scaleX(0.9629);">Qualify Opportunity</div>
<div class="abs" style="left:1106.4px;top:728.2px;width:3.500px;height:3.500px;border-radius:50%;background:#556b82"></div>
<div class="t" style="left:1117px;top:724px;font-size:11.2px;color:#748aa0;transform:translate(0.20px,0.50px) scaleX(0.9300);">Mar 15 2024</div>
<div class="t" style="left:1005px;top:755px;font-size:11.4px;color:#1d2d3e;font-weight:bold;transform:translate(0.80px,0.35px) scaleX(0.9250);">Proposal: Coffee machine service</div>
<div class="t" style="left:1024px;top:773px;font-size:11.4px;color:#394c60;font-weight:bold;transform:translate(0.40px,0.75px) scaleX(0.9349);">Sprout</div>
<div class="abs" style="left:1067.0px;top:777.5px;width:3.500px;height:3.500px;border-radius:50%;background:#475e75"></div>
<div class="t" style="left:1078px;top:773px;font-size:11.2px;color:#5b7187;transform:translate(0.20px,0.75px) scaleX(0.9372);">2300 USD</div>
<div class="t" style="left:1004px;top:792px;font-size:11.2px;color:#748aa0;transform:translate(0.82px,0.75px) scaleX(0.9843);">Identify Opportunity</div>
<div class="abs" style="left:1108.7px;top:796.5px;width:3.500px;height:3.500px;border-radius:50%;background:#556b82"></div>
<div class="t" style="left:1119px;top:792px;font-size:11.2px;color:#748aa0;transform:translate(0.50px,0.75px) scaleX(0.9300);">Mar 2 2024</div>
<svg class="abs" style="left:1005.500px;top:568.100px" width="12.200" height="12.200" viewBox="0 0 12 12"><circle cx="6" cy="6" r="6" fill="#16405f"/><path d="M4 2.800v6.400" stroke="#fff" stroke-width="1.500"/><path d="M8.400 2.800L5.400 6l3 3.200" stroke="#9fd4f2" stroke-width="1.500" fill="none"/></svg>
<svg class="abs" style="left:1005.500px;top:636.300px" width="12.200" height="12.200" viewBox="0 0 12 12"><circle cx="6" cy="6" r="6" fill="#a362e3"/><path d="M3.200 6a2 2 0 0 1 2-2h2.600M8.800 6a2 2 0 0 1-2 2H4.200" stroke="#fff" stroke-width="1.200" fill="none"/><path d="M7.200 2.800L8.600 4 7.200 5.200M4.800 6.800L3.400 8l1.400 1.200" stroke="#fff" stroke-width="1" fill="none"/></svg>
<svg class="abs" style="left:1005.500px;top:704.500px" width="12.200" height="12.200" viewBox="0 0 12 12"><circle cx="6" cy="6" r="5.400" fill="#fde4e4" stroke="#e66a6a" stroke-width="1.100"/><circle cx="6" cy="5" r="2.500" fill="#e5484d"/><path d="M2.600 9.400c1.800 1.200 5 1.200 6.800 0" stroke="#e5484d" stroke-width="1.200" fill="none"/></svg>
<svg class="abs" style="left:1005.500px;top:772.700px" width="12.200" height="12.200" viewBox="0 0 12 12"><circle cx="6" cy="6" r="6" fill="#f58b0a"/><circle cx="6" cy="6" r="3" fill="none" stroke="#fff" stroke-width="1.400"/><path d="M3.800 3.800l4.400 4.400" stroke="#f58b0a" stroke-width="1.400"/></svg>
<div class="t" style="left:34px;top:859px;font-size:13.3px;color:#475e75;font-weight:bold;transform:translate(0.40px,0.10px) scaleX(0.9290);">Pipeline</div>
<div class="t" style="left:52px;top:902px;font-size:13.3px;color:#475e75;font-weight:bold;transform:translate(0.80px,0.70px) scaleX(0.9292);">Opportunities (43)</div>
<div class="abs" style="left:1160px;top:357px;width:320px;height:570px;background:#fff;border-radius:11px 10px 0 0;box-shadow:-8px 0 28px rgba(34,53,72,.11),0 0 3px rgba(34,53,72,.10)"></div>
<div class="abs" style="left:1160px;top:357px;width:320px;height:43.400px;background:#5d36ff;border-radius:11px 10px 0 0"></div>
<svg class="abs" style="left:1346.500px;top:372.800px" width="14" height="14" viewBox="0 0 14 14" fill="none" stroke="#fff"><path d="M2.600 4.300A5.300 5.300 0 1 1 1.700 7.600" stroke-width="1.400"/><path d="M2.500 1.200v3.300h3.300" stroke-width="1.400"/><path d="M5.800 5.200v4.200l3.400-2.100Z" fill="#fff" stroke-width=".6"/></svg>
<svg class="abs" style="left:1380.500px;top:372.300px" width="14" height="14" viewBox="0 0 14 14" fill="none" stroke="#fff" stroke-width="1.400"><path d="M1.700 5V2.900a1.200 1.200 0 0 1 1.200-1.200H5M12.300 9v2.100a1.200 1.200 0 0 1-1.200 1.200H9"/><path d="M8.300 5.700L12.300 1.700M9.200 1.500h3.300v3.300"/><path d="M5.700 8.300L1.700 12.300M1.500 9.200v3.300h3.300"/></svg>
<svg class="abs" style="left:1414.700px;top:376.800px" width="14" height="5" viewBox="0 0 14 5" fill="#fff"><circle cx="2.200" cy="2.500" r="1.400"/><circle cx="6.900" cy="2.500" r="1.400"/><circle cx="11.600" cy="2.500" r="1.400"/></svg>
<svg class="abs" style="left:1450.700px;top:374.200px" width="10" height="10" viewBox="0 0 10 10"><path d="M1.300 1.200l7.400 7.400M8.700 1.200L1.300 8.600" stroke="#fff" stroke-width="1.500" fill="none"/></svg>
<div class="ub" style="top:413.100px;height:23.800px"></div>
<div class="bb" style="top:449.700px;height:58.200px"></div>
<div class="ub" style="top:520.600px;height:23.800px"></div>
<div class="bb" style="top:557.400px;height:27.200px"></div>
<div class="abs" style="left:1172px;top:597.300px;width:297.300px;height:97.500px;background:#fff;border-radius:6px;box-shadow:0 0 2px rgba(34,53,72,.12),0 1px 6px rgba(34,53,72,.20)"></div>
<div class="abs" style="left:1185px;top:611.400px;width:24.200px;height:24.200px;border-radius:50%;background:#fbeaa9"></div>
<svg class="abs" style="left:1189.100px;top:615.500px" width="16" height="16" viewBox="0 0 16 16" fill="none" stroke="#b9650b"><circle cx="8" cy="8" r="5.900" stroke-width="1.500"/><path d="M2.800 8.200c2.200.6 3.600-.2 4.800-2l1.200 1.500 2.200-2.300" stroke-width="1.300"/><path d="M5.200 13V10.800M7.200 13.600V9.800M9.200 13.600V9M11.200 12.600V7.600" stroke-width="1.200"/></svg>
<div class="abs" style="left:1429.700px;top:610.300px;width:27.600px;height:25.200px;border-radius:6px;border:1px solid #bcc8d4;background:#fff"></div>
<svg class="abs" style="left:1436.600px;top:620.500px" width="14" height="5" viewBox="0 0 14 5" fill="#0064d9"><circle cx="2.200" cy="2.500" r="1.350"/><circle cx="6.900" cy="2.500" r="1.350"/><circle cx="11.600" cy="2.500" r="1.350"/></svg>
<div class="abs" style="left:1216px;top:668.900px;width:30px;height:13.100px;border-radius:6px;background:#d6eaff"></div>
<div class="abs" style="left:1171.300px;top:893.700px;width:299.600px;height:30.200px;border-radius:7px;border:1.900px solid #1169e0;background:#fff;box-shadow:0 0 3px rgba(20,110,230,.35)"></div>
<div class="abs" style="left:1441.300px;top:897.400px;width:21.800px;height:21.800px;border-radius:50%;background:#93bff7"></div>
<svg class="abs" style="left:1445.700px;top:902px" width="13" height="13" viewBox="0 0 14 14"><path d="M1.200 6.800L12.400 1.600 9.200 12.600 6.600 8.400Z" fill="none" stroke="#fff" stroke-width="1.200" stroke-linejoin="round"/><path d="M6.600 8.400L12.400 1.600" stroke="#fff" stroke-width="1.100"/></svg>
<div class="t" style="left:1173px;top:372px;font-size:13.2px;color:#fff;font-weight:bold;transform:translate(0.00px,0.90px) scaleX(0.9264);">Joule</div>
<div class="t" style="left:1269px;top:420px;font-size:10.8px;color:#1d2d3e;transform:translate(0.70px,0.20px) scaleX(0.9073);">Update Expected Value</div>
<div class="t" style="left:1185px;top:458px;font-size:11.2px;color:#1d2d3e;transform:translate(0.30px,0.40px) scaleX(0.9519);">The current expected value is $500K.</div>
<div class="t" style="left:1185px;top:474px;font-size:11.2px;color:#1d2d3e;transform:translate(0.30px,0.30px) scaleX(0.9680);">What would you like the updated value</div>
<div class="t" style="left:1185px;top:489px;font-size:11.2px;color:#1d2d3e;transform:translate(0.30px,0.40px) scaleX(0.9520);">to be?</div>
<div class="t" style="left:1269px;top:527px;font-size:10.8px;color:#1d2d3e;transform:translate(0.70px,0.60px) scaleX(0.8932);">$600K</div>
<div class="t" style="left:1185px;top:566px;font-size:11.2px;color:#1d2d3e;transform:translate(0.30px,0.30px) scaleX(0.9579);">The expected value has been updated.</div>
<div class="t" style="left:1215px;top:614px;font-size:12.6px;color:#1d2d3e;transform:translate(0.02px,0.30px) scaleX(0.9849);">Kixo Opportunity</div>
<div class="t" style="left:1216px;top:634px;font-size:10.7px;color:#5b7187;transform:translate(0.00px,0.10px) scaleX(1.0280);">Kixo Inc • $600K</div>
<div class="t" style="left:1216px;top:653px;font-size:10.7px;color:#5b7187;transform:translate(0.00px,0.00px) scaleX(1.0392);">Jul 28, 2024 • Identify Opportuni...</div>
<div class="t" style="left:1219px;top:671px;font-size:9px;color:#0064d9;font-weight:bold;transform:translate(0.50px,0.90px) scaleX(1.0221);">Open</div>
<div class="chip" style="left:1174.2px;top:714.4px;width:79.5px"></div>
<div class="t" style="left:1180px;top:719px;font-size:11.4px;color:#1068dc;transform:translate(0.50px,0.40px) scaleX(0.9284);">Update Status</div>
<div class="chip" style="left:1260.4px;top:714.4px;width:109px"></div>
<div class="t" style="left:1266px;top:719px;font-size:11.4px;color:#1068dc;transform:translate(0.70px,0.40px) scaleX(0.9284);">Update Sales Phase</div>
<div class="chip" style="left:1174.2px;top:742.2px;width:136.4px"></div>
<div class="t" style="left:1180px;top:747px;font-size:11.4px;color:#1068dc;transform:translate(0.50px,0.20px) scaleX(0.9291);">Update Forecast Category</div>
<div class="chip" style="left:1317.9px;top:742.2px;width:83.1px"></div>
<div class="t" style="left:1324px;top:747px;font-size:11.4px;color:#1068dc;transform:translate(0.20px,0.20px) scaleX(0.9453);">Update Priority</div>
<div class="chip" style="left:1174.2px;top:770.1px;width:123.4px"></div>
<div class="t" style="left:1180px;top:775px;font-size:11.4px;color:#1068dc;transform:translate(0.50px,0.10px) scaleX(0.9384);">Update Expected Value</div>
<div class="t" style="left:1179px;top:902px;font-size:10.6px;color:#556b82;transform:translate(0.20px,0.80px);font-style:italic;">Message Joule...</div>
<div class="abs" style="left:0;top:927px;width:1480px;height:60px;background:#fff"></div>
</body></html>
